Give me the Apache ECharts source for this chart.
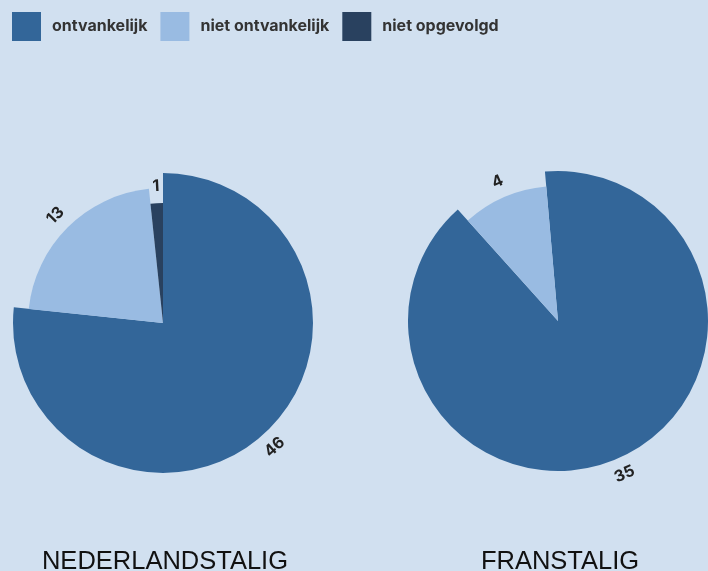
<!DOCTYPE html>
<html>
<head>
<meta charset="utf-8">
<script src="https://cdn.jsdelivr.net/npm/echarts@6/dist/echarts.min.js"></script>
<style>
  html, body { margin: 0; padding: 0; background: #d1e0f0; }
  #chart { width: 708px; height: 571px; }
</style>
</head>
<body>
<div id="chart"></div>
<script>
// categorieën en waarden per taalrol
const categories = ['ontvankelijk', 'niet ontvankelijk', 'niet opgevolgd'];
const nlValues = [46, 13, 1];
const frValues = [35, 4, 0];
const pieTitles = ['NEDERLANDSTALIG', 'FRANSTALIG'];

const colors = ['#336699', '#99bbe2', '#29415f'];
const bg = '#d1e0f0';

// layout per taart
const pies = [
  { values: nlValues, title: pieTitles[0], center: [163, 323], startAngle: 90 },
  { values: frValues, title: pieTitles[1], center: [558, 321], startAngle: 95 }
];

// grootste schijf heeft de grootste straal, daarna telkens kleiner
function radiusFor(values, i) {
  const rank = values.filter(v => v > values[i]).length;
  return 150 - rank * 15;
}

const series = [];
pies.forEach(p => {
  p.values.forEach((val, i) => {
    if (!val) return;
    const r = radiusFor(p.values, i);
    // de schijf zelf
    series.push({
      type: 'pie',
      center: p.center,
      radius: [0, r],
      startAngle: p.startAngle,
      silent: true,
      label: { show: false },
      labelLine: { show: false },
      data: p.values.map((v, j) => ({
        name: categories[j],
        value: v,
        itemStyle: { color: j === i ? colors[j] : 'rgba(0,0,0,0)' }
      }))
    });
    // label net buiten de schijf
    series.push({
      type: 'pie',
      center: p.center,
      radius: [r + 3, r + 25],
      startAngle: p.startAngle,
      silent: true,
      labelLine: { show: false },
      data: p.values.map((v, j) => ({
        name: categories[j],
        value: v,
        itemStyle: { color: 'rgba(0,0,0,0)' },
        label: {
          show: j === i,
          position: 'inside',
          rotate: 'tangential',
          formatter: '{c}',
          fontFamily: 'Inter',
          fontWeight: 'bold',
          fontSize: 16,
          color: '#222',
          backgroundColor: bg,
          padding: [1, 2]
        }
      }))
    });
  });
});

const chart = echarts.init(document.getElementById('chart'));
chart.setOption({
  backgroundColor: bg,
  animation: false,
  legend: {
    left: 12,
    top: 12,
    padding: 0,
    icon: 'rect',
    itemWidth: 29,
    itemHeight: 29,
    itemGap: 13,
    selectedMode: false,
    textStyle: {
      fontFamily: 'Inter',
      fontWeight: 'bold',
      fontSize: 16,
      color: '#333',
      padding: [0, 0, 0, 6]
    },
    data: categories.map((c, i) => ({ name: c, itemStyle: { color: colors[i] } }))
  },
  title: pies.map(p => ({
    text: p.title,
    left: p.center[0] + 2,
    textAlign: 'center',
    top: 549,
    padding: 0,
    textStyle: {
      fontFamily: 'Liberation Sans',
      fontWeight: 'normal',
      fontSize: 25.5,
      color: '#111'
    }
  })),
  series: series
});
</script>
</body>
</html>
